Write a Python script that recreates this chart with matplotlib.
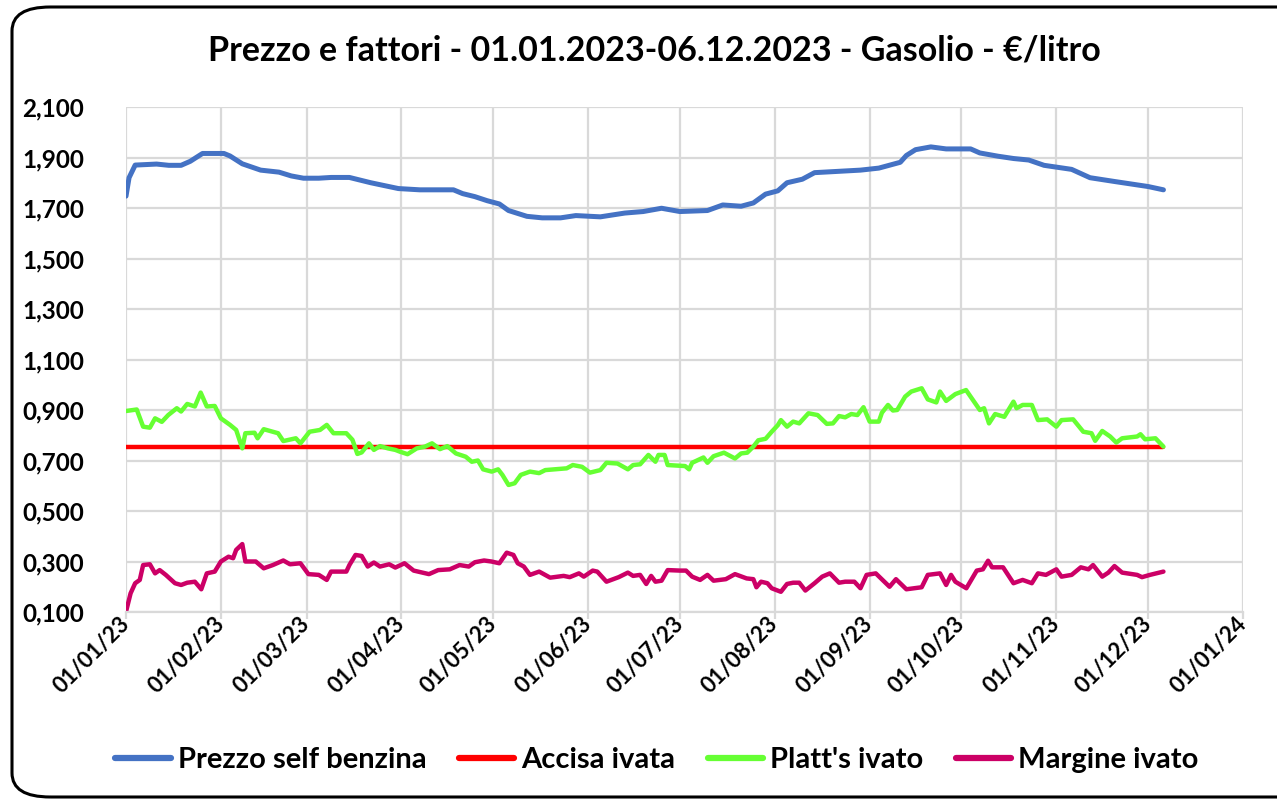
import matplotlib
matplotlib.use("Agg")
import matplotlib.pyplot as plt
import matplotlib.dates as mdates
from matplotlib.patches import FancyBboxPatch
from matplotlib.ticker import FuncFormatter, FixedLocator
import pandas as pd

plt.rcParams['font.family'] = ['Lato', 'DejaVu Sans']
plt.rcParams['font.weight'] = 'bold'

title = "Prezzo e fattori - 01.01.2023-06.12.2023 - Gasolio - €/litro"
start_date = "2023-01-01"
y_ticks = [0.1, 0.3, 0.5, 0.7, 0.9, 1.1, 1.3, 1.5, 1.7, 1.9, 2.1]

# ---- data: day offsets from 01/01/2023 and values (€/litro) ----
prezzo_days = [0, 1, 3, 10, 14, 18, 21, 25, 32, 34, 38, 44, 50, 54, 58, 63, 67, 73, 80, 89,
               96, 107, 110, 114, 118, 122, 125, 131, 136, 142, 147, 155, 163, 169, 175, 181,
               190, 195, 201, 205, 209, 213, 216, 221, 225, 240, 246, 253, 255, 258, 263, 268,
               276, 279, 285, 290, 295, 300, 309, 315, 323, 334, 339]
prezzo_vals = [1.747, 1.820, 1.870, 1.874, 1.869, 1.869, 1.885, 1.916, 1.916, 1.906, 1.875,
               1.850, 1.842, 1.827, 1.818, 1.818, 1.821, 1.821, 1.800, 1.777, 1.772, 1.772,
               1.757, 1.745, 1.729, 1.716, 1.690, 1.667, 1.661, 1.661, 1.670, 1.665, 1.680,
               1.686, 1.699, 1.686, 1.690, 1.712, 1.707, 1.720, 1.755, 1.768, 1.800, 1.814,
               1.840, 1.850, 1.858, 1.881, 1.908, 1.931, 1.942, 1.934, 1.934, 1.918, 1.905,
               1.896, 1.890, 1.869, 1.853, 1.820, 1.805, 1.785, 1.772]

accisa_days = [0, 339]
accisa_vals = [0.753, 0.753]

platts_days = [0, 3.5, 5.6, 7.8, 9.5, 11.7, 13.8, 16.6, 18, 20, 22.5, 24.4, 26.4, 29, 31, 34,
               36, 38, 39, 42, 43, 45, 49.7, 51.4, 55.5, 57, 60, 63.4, 65.6, 67.8, 72, 74, 75.6,
               77, 79.4, 81, 83, 85.6, 88, 89.5, 92, 95, 97.7, 100, 102.6, 105, 107.8, 111, 113,
               115, 116.7, 119.5, 121.6, 123, 125, 127, 129, 132, 135, 137, 140, 144, 146, 149,
               151.6, 155, 157, 160.6, 164, 165.7, 168, 170.7, 173, 174, 176, 177, 182.7, 184,
               185, 188.7, 190, 192, 195.4, 199, 201, 203, 205, 206.6, 209, 211, 213, 214, 216,
               218, 220, 223, 226, 229, 231, 233, 235, 237, 239, 241, 243, 246, 247, 249, 250.6,
               252, 254.6, 256.6, 260, 262, 264.8, 266, 268, 271, 274.5, 276.7, 279, 280.4, 282,
               284, 287, 290, 291, 293, 296, 298, 301, 304, 305.7, 309.5, 312.8, 315.5, 316.7,
               319, 321.6, 323.6, 325.5, 330.4, 331.5, 333, 336.4, 339]
platts_vals = [0.896, 0.902, 0.834, 0.830, 0.867, 0.853, 0.880, 0.907, 0.894, 0.924, 0.914,
               0.969, 0.914, 0.916, 0.867, 0.841, 0.821, 0.748, 0.808, 0.810, 0.788, 0.824,
               0.808, 0.777, 0.788, 0.768, 0.814, 0.821, 0.841, 0.808, 0.808, 0.782, 0.726,
               0.732, 0.768, 0.742, 0.757, 0.748, 0.742, 0.735, 0.725, 0.748, 0.755, 0.768,
               0.745, 0.757, 0.728, 0.715, 0.695, 0.700, 0.665, 0.656, 0.665, 0.643, 0.603,
               0.610, 0.643, 0.656, 0.650, 0.662, 0.665, 0.669, 0.682, 0.675, 0.652, 0.662,
               0.691, 0.688, 0.665, 0.682, 0.685, 0.722, 0.695, 0.722, 0.722, 0.682, 0.678,
               0.665, 0.691, 0.712, 0.691, 0.717, 0.731, 0.708, 0.728, 0.731, 0.755, 0.780,
               0.786, 0.814, 0.840, 0.860, 0.834, 0.854, 0.847, 0.887, 0.880, 0.845, 0.847,
               0.876, 0.871, 0.884, 0.880, 0.911, 0.854, 0.854, 0.889, 0.920, 0.898, 0.900,
               0.953, 0.973, 0.986, 0.942, 0.930, 0.973, 0.936, 0.963, 0.979, 0.940, 0.900,
               0.907, 0.847, 0.884, 0.873, 0.933, 0.907, 0.920, 0.920, 0.860, 0.863, 0.834,
               0.860, 0.863, 0.814, 0.808, 0.778, 0.817, 0.795, 0.771, 0.788, 0.795, 0.804,
               0.784, 0.788, 0.755]

margine_days = [0, 1.5, 3, 4.5, 5.6, 7.8, 9.5, 11, 13, 16, 18, 20, 22.5, 24.6, 26.4, 29, 31,
                33.5, 35, 36, 38, 39, 42.4, 45, 48, 51.4, 53.6, 57, 59.6, 63, 65.6, 67, 72, 73,
                75, 77, 79, 81, 83, 86, 88, 91, 94, 99, 102, 105.8, 109, 112, 114, 117, 119.4,
                122, 124.4, 126.6, 128, 130, 132, 135, 138.6, 143, 145, 148, 149.6, 152.5, 154,
                157, 161, 164, 165.7, 168, 170, 171.6, 173, 175, 177, 181, 183, 185, 187.6, 190,
                192, 196, 199, 202.8, 205, 206, 207.5, 209.6, 211, 214, 216, 218, 220, 222, 225,
                227.5, 230, 233, 235, 238, 240, 242, 245, 249.5, 251.6, 255, 260, 262, 266, 268,
                269.6, 271, 274.6, 278, 280, 281.7, 283, 286.6, 290, 293, 296, 298, 300.6, 304,
                305.7, 309, 312, 314.5, 316, 319, 321, 323, 325.5, 330.4, 332, 334.6, 339]
margine_vals = [0.101, 0.174, 0.214, 0.227, 0.286, 0.289, 0.253, 0.266, 0.247, 0.214, 0.207,
                0.216, 0.220, 0.190, 0.253, 0.260, 0.300, 0.319, 0.313, 0.346, 0.369, 0.300,
                0.300, 0.273, 0.286, 0.304, 0.289, 0.293, 0.250, 0.247, 0.227, 0.260, 0.260,
                0.286, 0.326, 0.322, 0.280, 0.296, 0.280, 0.289, 0.276, 0.293, 0.264, 0.250,
                0.266, 0.269, 0.286, 0.280, 0.297, 0.304, 0.300, 0.293, 0.335, 0.326, 0.293,
                0.280, 0.247, 0.260, 0.236, 0.243, 0.238, 0.253, 0.240, 0.264, 0.260, 0.220,
                0.238, 0.256, 0.243, 0.247, 0.211, 0.243, 0.220, 0.224, 0.266, 0.264, 0.264,
                0.240, 0.227, 0.247, 0.224, 0.230, 0.250, 0.233, 0.230, 0.198, 0.220, 0.214,
                0.194, 0.180, 0.211, 0.216, 0.216, 0.185, 0.214, 0.240, 0.253, 0.216, 0.220,
                0.220, 0.194, 0.247, 0.253, 0.200, 0.230, 0.190, 0.198, 0.247, 0.253, 0.207,
                0.247, 0.220, 0.194, 0.264, 0.269, 0.303, 0.277, 0.277, 0.214, 0.227, 0.214,
                0.253, 0.247, 0.269, 0.240, 0.247, 0.277, 0.269, 0.286, 0.240, 0.256, 0.282,
                0.256, 0.247, 0.238, 0.247, 0.260]

series_names = ["Prezzo self benzina", "Accisa ivata", "Platt's ivato", "Margine ivato"]
series_colors = ["#4472C4", "#FF0000", "#66FF33", "#CC0066"]

base = pd.Timestamp(start_date)


def to_dates(days):
    return [base + pd.Timedelta(days=float(d)) for d in days]


fig = plt.figure(figsize=(12.77, 8.0), dpi=100)
W, H = 1277, 800
ax = fig.add_axes([126 / W, 1 - 612 / H, (1243 - 126) / W, (612 - 107) / H])

all_series = [(prezzo_days, prezzo_vals), (accisa_days, accisa_vals),
              (platts_days, platts_vals), (margine_days, margine_vals)]
widths = [3.6, 3.2, 3.2, 3.2]
for (d, v), name, col, lw in zip(all_series, series_names, series_colors, widths):
    ax.plot(to_dates(d), v, color=col, lw=lw, label=name, solid_capstyle='round',
            solid_joinstyle='round')

ax.set_xlim(pd.Timestamp("2023-01-01"), pd.Timestamp("2024-01-01"))
ax.set_ylim(0.1, 2.1)
ax.yaxis.set_major_locator(FixedLocator(y_ticks))
ax.yaxis.set_major_formatter(FuncFormatter(lambda y, p: f"{y:.3f}".replace('.', ',')))
ax.xaxis.set_major_locator(mdates.MonthLocator())
ax.xaxis.set_major_formatter(mdates.DateFormatter("%d/%m/%y"))

ax.grid(True, color="#D9D9D9", lw=1.6)
ax.set_axisbelow(True)
for s in ["left", "top", "right"]:
    ax.spines[s].set_visible(False)
ax.spines["bottom"].set_color("#D9D9D9")
ax.spines["bottom"].set_linewidth(1.6)
ax.tick_params(axis='y', length=0, pad=30, labelsize=17.5)
ax.tick_params(axis='x', length=5, width=1.6, color="#D9D9D9", labelsize=16, pad=1)
for lab in ax.get_xticklabels():
    lab.set_rotation(45)
    lab.set_ha('right')
    lab.set_va('center')
    lab.set_rotation_mode('anchor')
for lab in ax.get_yticklabels() + ax.get_xticklabels():
    lab.set_fontweight('bold')

fig.text(654 / W, 1 - 50 / H, title, ha='center', va='center', fontsize=24.5,
         fontweight='bold')

leg = fig.legend(loc='center', bbox_to_anchor=(657 / W, 1 - 760 / H), ncol=4, frameon=False,
                 fontsize=21, handlelength=1.9, handletextpad=0.25, columnspacing=1.1)
for line in leg.get_lines():
    line.set_linewidth(4.5)

frame = FancyBboxPatch((12 / W, 1 - 797 / H), (1340 - 12) / W, (797 - 7) / H,
                       boxstyle="round,pad=0,rounding_size=0.03", transform=fig.transFigure,
                       fill=False, ec="black", lw=2.2, clip_on=False)
fig.patches.append(frame)

fig.savefig("out.png", dpi=100)
